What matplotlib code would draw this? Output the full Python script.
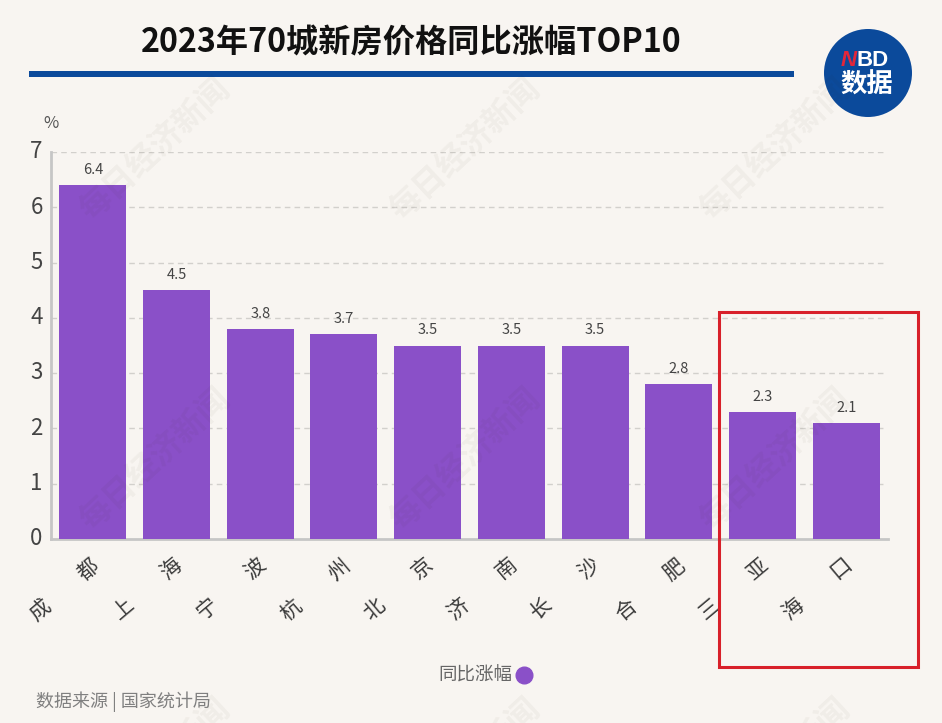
import matplotlib
matplotlib.use("Agg")
import matplotlib.pyplot as plt
from matplotlib.lines import Line2D
from matplotlib.patches import Circle, Rectangle
from matplotlib.transforms import ScaledTranslation

plt.rcParams['font.family'] = ['Noto Sans CJK SC', 'DejaVu Sans']

cities = ["成都", "上海", "宁波", "杭州", "北京", "济南", "长沙", "合肥", "三亚", "海口"]
values = [6.4, 4.5, 3.8, 3.7, 3.5, 3.5, 3.5, 2.8, 2.3, 2.1]
y_ticks = [0, 1, 2, 3, 4, 5, 6, 7]
title = "2023年70城新房价格同比涨幅TOP10"
series_name = "同比涨幅"
source = "数据来源 | 国家统计局"
watermark = "每日经济新闻"

W, H = 942, 723
BG = "#F8F5F1"
PURPLE = "#8A50C8"
BLUE = "#0B4A9B"
fig = plt.figure(figsize=(W / 100, H / 100), dpi=100, facecolor=BG)


def fx(x):
    return x / W


def fy(y):
    return 1 - y / H


ax = fig.add_axes([fx(51), fy(539), 837 / W, 387 / H], facecolor="none")
xs = list(range(len(cities)))
bars = ax.bar(xs, values, width=0.8, color=PURPLE, label=series_name, zorder=3)
ax.set_xlim(-0.5, len(cities) - 0.5)
ax.set_ylim(0, 7)
ax.set_yticks(y_ticks)
ax.tick_params(axis='y', length=0, labelsize=16, labelcolor="#444444", pad=6)
for lab in ax.get_yticklabels():
    lab.set_transform(lab.get_transform() + ScaledTranslation(0, 2 / 72, fig.dpi_scale_trans))
ax.tick_params(axis='x', length=0, pad=17)
ax.set_xticks(xs)
ax.set_xticklabels([c[0] + "\u3000\u3000" + c[1] for c in cities], rotation=40,
                   ha='right', va='center', rotation_mode='anchor',
                   fontsize=15, color="#3A3A3A")
for lab in ax.get_xticklabels():
    lab.set_transform(lab.get_transform() + ScaledTranslation(2.5 / 72, 0, fig.dpi_scale_trans))
ax.hlines(y_ticks[1:], -0.5, 9.45, colors="#D2D0CC", linestyles=(0, (4, 3)), linewidth=1.0, zorder=1)
for s in ("top", "right"):
    ax.spines[s].set_visible(False)
for s in ("left", "bottom"):
    ax.spines[s].set_color("#C6C6C6")
    ax.spines[s].set_linewidth(2)
ax.bar_label(bars, labels=[f"{v:.1f}" for v in values], padding=6, fontsize=10.5, color="#444444")

for cx in (155, 465, 775):
    for cy in (150, 460, 770):
        fig.text(fx(cx), fy(cy), watermark, fontsize=23, color="#3A2A10", alpha=0.045, rotation=43,
                 ha='center', va='center', fontweight='bold')

fig.text(fx(411), fy(43), title, fontsize=23.2, fontweight='bold', color="#111111", ha='center', va='center')
fig.add_artist(Rectangle((fx(29), fy(77)), 765 / W, 6 / H, transform=fig.transFigure, color=BLUE, lw=0))
fig.text(fx(51), fy(124), "%", fontsize=12, color="#555555", ha='center', va='center')

logo = Circle((868, H - 73), 44, transform=None, color=BLUE, lw=0)
fig.add_artist(logo)
fig.text(fx(841), fy(60), "N", fontsize=16, fontweight='bold', style='italic', family='Liberation Sans',
         color="#E3263A", ha='left', va='center')
fig.text(fx(856), fy(60), "BD", fontsize=16, fontweight='bold', family='Liberation Sans',
         color="white", ha='left', va='center')
fig.text(fx(867), fy(85), "数据", fontsize=19, fontweight='bold', color="white", ha='center', va='center')

handle = Line2D([], [], linestyle='none', marker='o', markersize=12, color=PURPLE)
fig.legend([handle], [series_name], loc='center', bbox_to_anchor=(fx(486), fy(676)), frameon=False,
           markerfirst=False, fontsize=13.3, labelcolor="#666666", handletextpad=0.1, handlelength=1.0)
fig.text(fx(36), fy(702), source, fontsize=13, color="#808080", ha='left', va='center')

fig.add_artist(Rectangle((fx(719), fy(667)), 199 / W, 355 / H, transform=fig.transFigure,
                         fill=False, edgecolor="#D8202A", lw=2.2))

fig.savefig("out.png", dpi=100, facecolor=BG)
